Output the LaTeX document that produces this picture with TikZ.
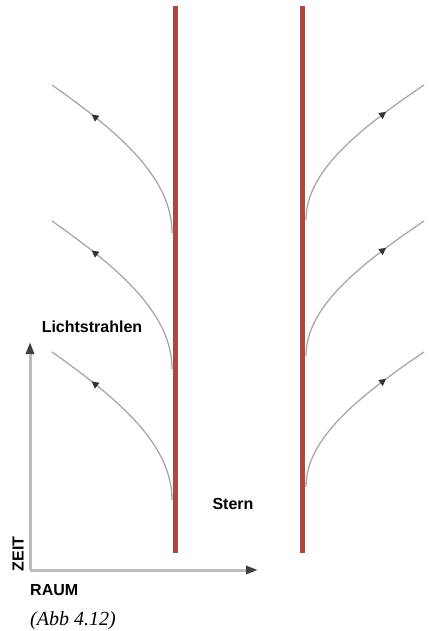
\documentclass[tikz,border=0pt]{standalone}
\usepackage{fontspec}
\setmainfont{Liberation Serif}
\setsansfont{Liberation Sans}
\usetikzlibrary{arrows.meta,decorations.markings}
\definecolor{sternrot}{RGB}{172,72,62}
\definecolor{strahlgrau}{RGB}{168,168,168}
\definecolor{achsgrau}{RGB}{188,188,188}

\begin{document}
\begin{tikzpicture}[
  x=1pt, y=-1pt,
  weltlinie/.style={draw=sternrot, line width=5pt},
  strahl/.style={draw=strahlgrau, line width=1.3pt, postaction={decorate},
    decoration={markings, mark=at position 0.75 with {\arrow[black!80]{Triangle[length=7pt,width=7pt]}}}},
  achse/.style={draw=achsgrau, line width=3pt, -{Triangle[length=12pt,width=8pt,color=black!75]}},
  beschrift/.style={font=\sffamily\bfseries\fontsize{16}{18}\selectfont, inner sep=0pt}
]
\useasboundingbox (0,0) rectangle (430,631);

% Lichtstrahlen
\foreach \y in {85,221,352} {
  \draw[strahl] (172,\y+148) .. controls (172,\y+93) and (120,\y+48) .. (52,\y);
  \draw[strahl] (306,\y+135) .. controls (306,\y+90) and (350,\y+50) .. (424,\y);
}

% Weltlinien des Sterns
\coordinate (links oben) at (175,6);
\coordinate (links unten) at (175,553);
\coordinate (rechts oben) at (302,6);
\coordinate (rechts unten) at (302,553);
\draw[weltlinie] (links unten) -- (links oben);
\draw[weltlinie] (rechts unten) -- (rechts oben);

% Achsen
\coordinate (ursprung) at (30,570);
\coordinate (zeitende) at (30,342);
\coordinate (raumende) at (258,570);
\draw[achse] (ursprung) -- (zeitende);
\draw[achse] (ursprung) -- (raumende);

% Beschriftungen
\node[beschrift] (licht) at (92,327) {Lichtstrahlen};
\node[beschrift] (stern) at (233,504) {Stern};
\node[beschrift, rotate=90] (zeit) at (18,554) {ZEIT};
\node[beschrift, anchor=west] (raum) at (30,590) {RAUM};
\node[font=\itshape\fontsize{20}{24}\selectfont, anchor=west, inner sep=0pt] (abb) at (30,621) {(Abb 4.12)};
\end{tikzpicture}
\end{document}
